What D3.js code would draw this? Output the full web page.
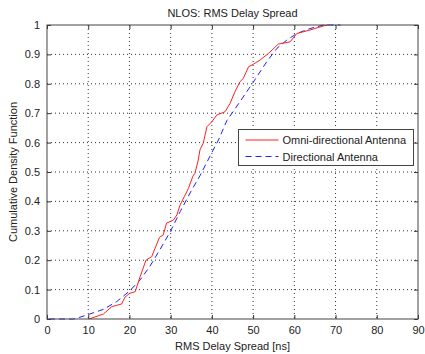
<html>
<head>
    <script src="https://d3js.org/d3.v7.min.js"></script>
    <style>
        body { margin: 0; background: #fff; }
        text { font-family: "Liberation Sans", Arial, sans-serif; fill: #222; }
    </style>
</head>
<body>
    <svg id="chartArea" width="425" height="354"></svg>
    <script>
        // omni-directional antenna: [delay ns, cdf]
        const omniX = [10.2, 13.7, 15.7, 18.1, 18.9, 20, 21.4, 22.6, 24, 25.4, 26.2, 27.3, 28.2, 29.0, 30.7, 31.5, 32.3, 33.3, 34.3, 35.4, 35.9, 36.7, 37.1, 37.9, 38.8, 40, 41.2, 43.2, 44.4, 45.6, 46.8, 47.6, 48.9, 50, 51.7, 53.7, 56.1, 59, 60.6, 63.8, 67.1, 68.2];
        const omniY = [0, 0.017, 0.042, 0.051, 0.074, 0.087, 0.093, 0.144, 0.2, 0.212, 0.24, 0.278, 0.286, 0.326, 0.337, 0.354, 0.388, 0.416, 0.444, 0.486, 0.496, 0.541, 0.575, 0.598, 0.654, 0.671, 0.694, 0.705, 0.733, 0.773, 0.807, 0.818, 0.858, 0.866, 0.881, 0.903, 0.935, 0.943, 0.971, 0.983, 0.997, 1.0];

        // directional antenna
        const dirX = [0.5, 6.4, 8, 10.4, 13.7, 16.9, 20, 22.6, 25, 27.4, 29.9, 32.3, 35.1, 37.1, 40.2, 41.6, 43.6, 46.8, 50.1, 53.3, 55.8, 58.2, 60.6, 63.8, 67.1, 71.2];
        const dirY = [0, 0, 0.006, 0.017, 0.033, 0.059, 0.095, 0.133, 0.18, 0.236, 0.297, 0.365, 0.439, 0.487, 0.572, 0.609, 0.674, 0.739, 0.807, 0.875, 0.921, 0.949, 0.971, 0.988, 1.0, 1.0];

        const xTicks = [0, 10, 20, 30, 40, 50, 60, 70, 80, 90];
        const yTicks = [0, 0.1, 0.2, 0.3, 0.4, 0.5, 0.6, 0.7, 0.8, 0.9, 1];
        const seriesNames = ["Omni-directional Antenna", "Directional Antenna"];

        const svg = d3.select("#chartArea");
        const margins = { top: 25, right: 7, bottom: 35, left: 47 };
        const chartWidth = 425 - margins.left - margins.right;
        const chartHeight = 354 - margins.top - margins.bottom;

        const chartArea = svg.append("g")
            .attr("transform", `translate(${margins.left},${margins.top})`);

        const xScale = d3.scaleLinear().domain([0, 90]).range([0, chartWidth]);
        const yScale = d3.scaleLinear().domain([0, 1]).range([chartHeight, 0]);

        chartArea.append("rect")
            .attr("width", chartWidth).attr("height", chartHeight)
            .attr("fill", "#fff");

        // dotted grid
        chartArea.selectAll("line.gx").data(xTicks.slice(1, -1))
            .join("line").attr("class", "gx")
            .attr("x1", d => xScale(d)).attr("x2", d => xScale(d))
            .attr("y1", 0).attr("y2", chartHeight)
            .attr("stroke", "#333").attr("stroke-width", 1)
            .attr("stroke-dasharray", "1,3");
        chartArea.selectAll("line.gy").data(yTicks.slice(1, -1))
            .join("line").attr("class", "gy")
            .attr("x1", 0).attr("x2", chartWidth)
            .attr("y1", d => yScale(d)).attr("y2", d => yScale(d))
            .attr("stroke", "#333").attr("stroke-width", 1)
            .attr("stroke-dasharray", "1,3");

        // axes, ticks pointing inward
        const xAxis = chartArea.append("g")
            .attr("transform", `translate(0,${chartHeight})`)
            .call(d3.axisBottom(xScale).tickValues(xTicks).tickSize(-4).tickPadding(7).tickFormat(d3.format("d")));
        const xTop = chartArea.append("g")
            .call(d3.axisTop(xScale).tickValues(xTicks).tickSize(-4).tickFormat(""));
        const yAxis = chartArea.append("g")
            .call(d3.axisLeft(yScale).tickValues(yTicks).tickSize(-4).tickPadding(7).tickFormat(d => d === 0 || d === 1 ? d : d.toFixed(1)));
        const yRight = chartArea.append("g")
            .attr("transform", `translate(${chartWidth},0)`)
            .call(d3.axisRight(yScale).tickValues(yTicks).tickSize(-4).tickFormat(""));

        [xAxis, xTop, yAxis, yRight].forEach(a => {
            a.select(".domain").remove();
            a.selectAll("line").attr("stroke", "#333");
            a.selectAll("text").attr("font-size", "11px")
                .attr("font-family", "Liberation Sans, Arial, sans-serif").attr("fill", "#222");
        });

        const line = d3.line().x(d => xScale(d[0])).y(d => yScale(d[1]));

        chartArea.append("path")
            .datum(dirX.map((x, i) => [x, dirY[i]]))
            .attr("d", line)
            .attr("fill", "none").attr("stroke", "#2020ff").attr("stroke-width", 1)
            .attr("stroke-dasharray", "6,4");

        chartArea.append("path")
            .datum(omniX.map((x, i) => [x, omniY[i]]))
            .attr("d", line)
            .attr("fill", "none").attr("stroke", "#ff2020").attr("stroke-width", 1);

        // box
        chartArea.append("rect")
            .attr("width", chartWidth).attr("height", chartHeight)
            .attr("fill", "none").attr("stroke", "#444").attr("stroke-width", 1);

        // legend
        const legend = svg.append("g").attr("transform", "translate(238.5,129.5)");
        legend.append("rect").attr("width", 175).attr("height", 36)
            .attr("fill", "#fff").attr("stroke", "#444").attr("stroke-width", 1);
        const styles = [{ c: "#ff2020", dash: null }, { c: "#2020ff", dash: "6,4" }];
        seriesNames.forEach((name, i) => {
            const yy = 10.5 + i * 16.5;
            legend.append("line").attr("x1", 7).attr("x2", 40).attr("y1", yy).attr("y2", yy)
                .attr("stroke", styles[i].c).attr("stroke-width", 1)
                .attr("stroke-dasharray", styles[i].dash);
            legend.append("text").attr("x", 44).attr("y", yy + 4)
                .attr("font-size", "11px").text(name);
        });

        // labels
        svg.append("text").attr("x", margins.left + chartWidth / 2).attr("y", 17)
            .attr("text-anchor", "middle").attr("font-size", "11px").text("NLOS: RMS Delay Spread");
        svg.append("text").attr("x", margins.left + chartWidth / 2).attr("y", 350)
            .attr("text-anchor", "middle").attr("font-size", "11px").text("RMS Delay Spread [ns]");
        svg.append("text")
            .attr("transform", `translate(17,${margins.top + chartHeight / 2}) rotate(-90)`)
            .attr("text-anchor", "middle").attr("font-size", "11px").text("Cumulative Density Function");
    </script>
</body>
</html>
